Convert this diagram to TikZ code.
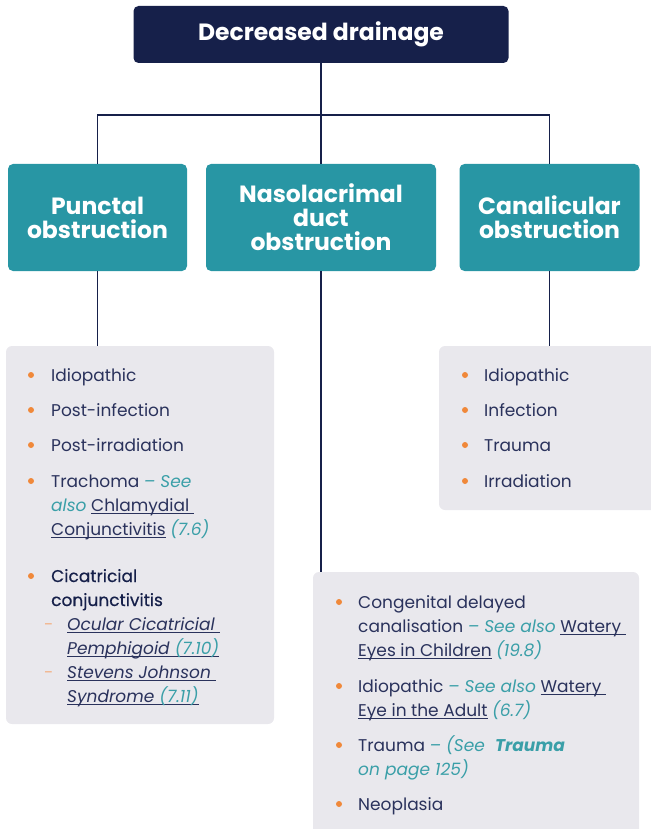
\documentclass[tikz,border=0pt]{standalone}
\usepackage{fontspec}
\setmainfont{Poppins}
\newfontfamily\medfont[FakeBold=0.5]{Poppins}
\definecolor{navy}{HTML}{16204A}
\definecolor{tealbox}{HTML}{2896A4}
\definecolor{greybox}{HTML}{E9E8ED}
\definecolor{txtc}{HTML}{2A325C}
\definecolor{seec}{HTML}{3A9FA8}
\definecolor{bulc}{HTML}{F0883A}
\definecolor{dashc}{HTML}{F2B48A}
\newcommand\lnk[1]{\setbox0\hbox{#1}\rlap{\rule[-2.6pt]{\wd0}{0.8pt}}\box0\relax}
\newcommand\see[1]{{\itshape\color{seec}#1}}
\begin{document}
\begin{tikzpicture}[x=1pt,y=-1pt,
  topbox/.style={fill=navy, rounded corners=5pt, text=white, inner sep=0,
    font=\fontsize{23.5}{24}\selectfont\bfseries},
  catbox/.style={fill=tealbox, rounded corners=5pt, text=white, inner sep=0, align=center,
    minimum height=107pt, font=\fontsize{23.5}{24}\selectfont\bfseries},
  listbox/.style={fill=greybox, rounded corners=6pt, inner sep=0},
  conn/.style={draw=navy, line width=1.5pt},
  bul/.style={circle, fill=bulc, inner sep=0, minimum size=6pt},
  txt/.style={anchor=base west, inner sep=0, text=txtc, font=\fontsize{17}{24}\selectfont},
  sdash/.style={anchor=base west, inner sep=0, text=dashc, font=\fontsize{17}{24}\selectfont}
]
\useasboundingbox (0,0) rectangle (650,829);

% boxes
\node[topbox, minimum width=375pt, minimum height=57pt] (top) at (321,34.5) {Decreased drainage};
\node[catbox, minimum width=179pt] (punc) at (97.5,217.5) {Punctal\\obstruction};
\node[catbox, minimum width=230pt] (nas) at (321,217.5) {Nasolacrimal\\duct\\obstruction};
\node[catbox, minimum width=180pt] (can) at (549.5,217.5) {Canalicular\\obstruction};

\node[listbox, minimum width=268pt, minimum height=378pt] (g1) at (140,535) {};
\node[listbox, minimum width=326pt, minimum height=270pt] (g2) at (476,707) {};
\node[listbox, minimum width=222pt, minimum height=164pt] (g3) at (550,428) {};

% connectors
\coordinate (j) at (321,115);
\draw[conn] (top.south) -- (j);
\draw[conn] (punc.north) |- (j) -| (can.north);
\draw[conn] (j) -- (nas.north);
\draw[conn] (punc.south) -- (punc.south |- g1.north);
\draw[conn] (nas.south) -- (nas.south |- g2.north);
\draw[conn] (can.south) -- (can.south |- g3.north);

% list 1
\node[bul] (a1) at (31,375) {};
\node[txt] (ta1) at (51,381) {Idiopathic};
\node[bul] (a2) at (31,410) {};
\node[txt] (ta2) at (51,416) {Post-infection};
\node[bul] (a3) at (31,445) {};
\node[txt] (ta3) at (51,451) {Post-irradiation};
\node[bul] (a4) at (31,481) {};
\node[txt] (ta4a) at (51,487) {Trachoma \see{– See}};
\node[txt] (ta4b) at (51,511) {\see{also} \lnk{Chlamydial }};
\node[txt] (ta4c) at (51,535) {\lnk{Conjunctivitis} \see{(7.6)}};
\node[bul] (a5) at (31,576) {};
\node[txt, text=navy] (ta5a) at (51,582) {\medfont Cicatricial};
\node[txt, text=navy] (ta5b) at (51,606) {\medfont conjunctivitis};
\node[sdash] (d1) at (44,630) {-};
\node[txt] (ta6a) at (67,630) {\lnk{\itshape Ocular Cicatricial }};
\node[txt] (ta6b) at (67,654) {\lnk{\itshape Pemphigoid \see{(7.10)}}};
\node[sdash] (d2) at (44,678) {-};
\node[txt] (ta7a) at (67,678) {\lnk{\itshape Stevens Johnson }};
\node[txt] (ta7b) at (67,702) {\lnk{\itshape Syndrome \see{(7.11)}}};

% list 2
\node[bul] (b1) at (339,602) {};
\node[txt] (tb1a) at (358,608) {Congenital delayed};
\node[txt] (tb1b) at (358,632) {canalisation \see{– See also} \lnk{Watery }};
\node[txt] (tb1c) at (358,656) {\lnk{Eyes in Children} \see{(19.8)}};
\node[bul] (b2) at (339,686) {};
\node[txt] (tb2a) at (358,692) {Idiopathic \see{– See also} \lnk{Watery }};
\node[txt] (tb2b) at (358,716) {\lnk{Eye in the Adult} \see{(6.7)}};
\node[bul] (b3) at (339,745) {};
\node[txt] (tb3a) at (358,751) {Trauma \see{– (See\ \ \textbf{Trauma}}};
\node[txt] (tb3b) at (358,775) {\see{on page 125)}};
\node[bul] (b4) at (339,804) {};
\node[txt] (tb4) at (358,810) {Neoplasia};

% list 3
\node[bul] (c1) at (465,375) {};
\node[txt] (tc1) at (484,381) {Idiopathic};
\node[bul] (c2) at (465,410) {};
\node[txt] (tc2) at (484,416) {Infection};
\node[bul] (c3) at (465,445) {};
\node[txt] (tc3) at (484,451) {Trauma};
\node[bul] (c4) at (465,481) {};
\node[txt] (tc4) at (484,487) {Irradiation};
\end{tikzpicture}
\end{document}
